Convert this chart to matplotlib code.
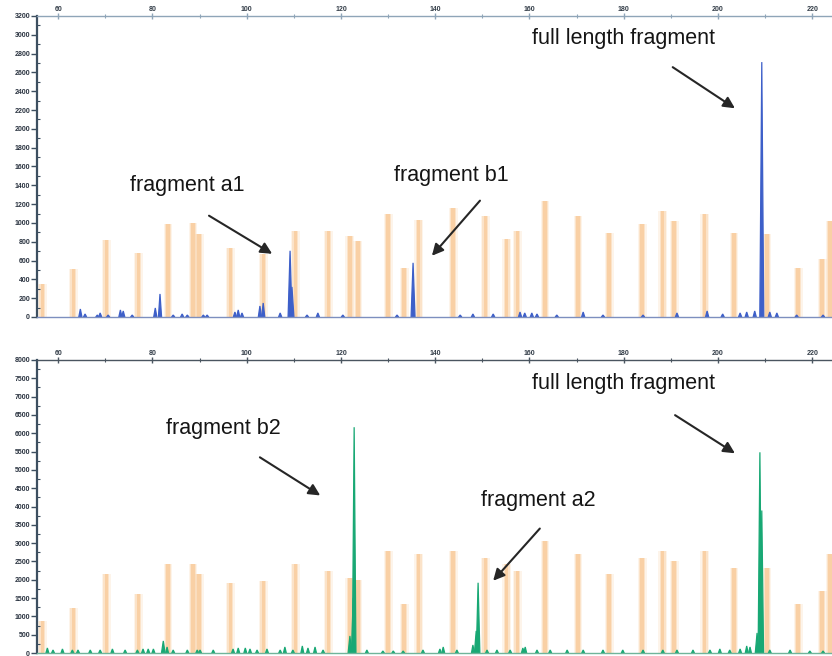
import matplotlib
matplotlib.use("Agg")
import matplotlib.pyplot as plt
from matplotlib.ticker import MultipleLocator

plt.rcParams['font.family'] = ['Liberation Sans', 'DejaVu Sans']

# Fragment sizes (bp) for the top scale
size_ticks = [60, 80, 100, 120, 140, 160, 180, 200, 220]

# Size-standard ladder (orange) : positions in bp and heights per panel
ladder_bp = [56.6, 63.2, 70.2, 77.0, 83.3, 88.6, 89.9, 96.5, 103.5, 110.3,
             117.3, 121.9, 123.6, 130.0, 133.4, 136.5, 143.8, 150.6, 155.2,
             157.4, 163.3, 170.3, 176.9, 183.9, 188.3, 190.7, 197.2, 203.4,
             210.4, 217.0, 222.1, 223.8]
ladder_top = [352, 512, 821, 683, 992, 1003, 885, 736, 672, 917,
              917, 864, 811, 1099, 523, 1030, 1163, 1077, 832,
              917, 1237, 1077, 896, 992, 1131, 1024, 1099, 896,
              885, 523, 619, 1024]
ladder_bottom = [877, 1233, 2165, 1617, 2439, 2439, 2165, 1918, 1973, 2439,
                 2247, 2055, 2000, 2795, 1343, 2713, 2795, 2603, 2439,
                 2247, 3069, 2713, 2165, 2603, 2795, 2521, 2795, 2329,
                 2329, 1343, 1699, 2713]

# Sample 1 trace (blue): peak positions (bp) and heights (RFU)
blue_bp = [64.7, 65.7, 68.3, 68.9, 70.6, 73.2, 73.8, 75.7, 80.6, 81.6,
           84.4, 86.3, 87.4, 90.8, 91.6, 97.5, 98.2, 99.0, 102.8, 103.5,
           107.1, 109.2, 109.6, 112.8, 115.1, 120.4, 131.9, 135.3, 145.3,
           148.0, 152.3, 158.0, 159.0, 160.5, 161.6, 165.8, 171.4, 175.6,
           184.1, 191.3, 197.7, 201.0, 204.7, 206.1, 207.8, 209.3, 211.0,
           212.5, 216.7, 222.3]
blue_h = [85, 32, 21, 43, 21, 75, 64, 21, 96, 245,
          21, 32, 21, 21, 21, 53, 75, 43, 117, 149,
          43, 704, 320, 21, 43, 21, 21, 576, 21,
          32, 32, 53, 43, 43, 32, 21, 53, 21,
          21, 43, 64, 32, 43, 53, 64, 2710, 53,
          43, 21, 21]

# Sample 2 trace (green): peak positions (bp) and heights (RFU)
green_bp = [57.7, 58.9, 60.9, 63.0, 64.2, 66.8, 68.9, 71.5, 74.2, 76.8,
            78.0, 79.1, 80.2, 82.3, 83.1, 84.4, 87.4, 89.5, 90.1, 92.9,
            97.1, 98.2, 99.7, 100.7, 102.2, 104.3, 107.1, 108.1, 109.8,
            111.8, 113.0, 114.5, 116.2, 121.9, 122.6, 122.8, 125.5, 128.9,
            131.1, 133.2, 137.4, 141.0, 141.7, 144.6, 148.0, 148.7, 149.1,
            151.0, 153.1, 155.9, 158.6, 159.1, 161.6, 164.4, 168.0, 171.4,
            175.6, 179.8, 184.1, 188.3, 191.3, 194.7, 198.3, 200.4, 202.5,
            204.7, 206.1, 206.8, 208.3, 208.9, 209.3, 211.0, 215.3, 219.5,
            222.3]
green_h = [137, 82, 110, 82, 82, 82, 82, 110, 82, 82,
           110, 110, 110, 329, 164, 82, 82, 82, 82, 82,
           110, 137, 137, 110, 82, 110, 82, 164, 82,
           192, 137, 164, 82, 466, 1507, 6165, 82, 55,
           55, 55, 82, 110, 164, 82, 219, 603, 1918,
           82, 82, 82, 137, 164, 82, 82, 82, 82,
           82, 82, 82, 82, 82, 82, 82, 110, 82,
           110, 192, 164, 548, 5480, 3891, 82, 82, 55,
           55]

top_yticks = list(range(0, 3201, 200))
bottom_yticks = list(range(0, 8001, 500))

W, H = 832, 656
fig = plt.figure(figsize=(W / 100, H / 100), dpi=100)
ax1 = fig.add_axes([37 / W, 1 - 317 / H, (W - 37) / W, 301 / H])
ax2 = fig.add_axes([37 / W, 1 - 653 / H, (W - 37) / W, 293 / H])

ORANGE = '#F9C48E'


def draw_ladder(ax, heights):
    ax.bar(ladder_bp, heights, width=1.9, color=ORANGE, alpha=0.18,
           linewidth=0, zorder=1)
    ax.bar(ladder_bp, heights, width=1.2, color=ORANGE, alpha=0.35,
           linewidth=0, zorder=1)
    ax.bar(ladder_bp, heights, width=0.7, color=ORANGE, alpha=0.6,
           linewidth=0, zorder=1)


def draw_trace(ax, xs, hs, color, halfwidth):
    for x, h in zip(xs, hs):
        w = halfwidth if h > 300 else halfwidth * 0.8
        ax.fill([x - w, x, x + w], [0, h, 0], color=color, lw=0.9,
                edgecolor=color, zorder=2)


def style_axis(ax, yticks, top_color, base_color):
    ax.set_xlim(55.5, 224.2)
    ax.set_ylim(0, yticks[-1])
    ax.xaxis.tick_top()
    ax.set_xticks(size_ticks)
    ax.xaxis.set_minor_locator(MultipleLocator(10))
    ax.tick_params(axis='x', which='major', direction='inout', length=5,
                   width=1.0, color=top_color, labelsize=5, pad=0,
                   labelcolor='#333d48')
    ax.tick_params(axis='x', which='minor', direction='inout', length=3,
                   width=0.8, color=top_color)
    ax.set_yticks(yticks)
    ax.yaxis.set_minor_locator(MultipleLocator(yticks[1] / 2))
    ax.tick_params(axis='y', which='major', direction='out', length=4,
                   width=1.0, color='#3d4f60', labelsize=5, pad=1,
                   labelcolor='#2a3340')
    ax.tick_params(axis='y', which='minor', direction='in', length=2,
                   width=0.8, color='#3d4f60')
    for lbl in ax.get_yticklabels() + ax.get_xticklabels():
        lbl.set_fontweight('bold')
    ax.spines['right'].set_visible(False)
    ax.spines['left'].set_color('#3d4f60')
    ax.spines['left'].set_linewidth(1.6)
    ax.spines['top'].set_color(top_color)
    ax.spines['top'].set_linewidth(1.0)
    ax.spines['bottom'].set_color(base_color)
    ax.spines['bottom'].set_linewidth(1.0)
    ax.set_facecolor('white')


draw_ladder(ax1, ladder_top)
draw_trace(ax1, blue_bp, blue_h, '#3d5fc9', 0.42)
style_axis(ax1, top_yticks, '#8fa5b8', '#7d8fbf')

draw_ladder(ax2, ladder_bottom)
draw_trace(ax2, green_bp, green_h, '#18a874', 0.38)
style_axis(ax2, bottom_yticks, '#4a5560', '#6fb59a')

TEXT = dict(fontsize=15.5, color='#151515', ha='center', va='center', zorder=4)
ARROW = dict(arrowstyle='-|>', color='#262626', lw=1.5, mutation_scale=17,
             shrinkA=0, shrinkB=0)

# top panel labels
ax1.text(87.4, 1397, 'fragment a1', **TEXT)
ax1.annotate('', xy=(105.4, 672), xytext=(92.0, 1077), arrowprops=ARROW)
ax1.text(143.4, 1504, 'fragment b1', **TEXT)
ax1.annotate('', xy=(139.3, 651), xytext=(149.5, 1237), arrowprops=ARROW)
ax1.text(180.0, 2965, 'full length fragment', **TEXT)
ax1.annotate('', xy=(203.6, 2219), xytext=(190.4, 2656), arrowprops=ARROW)

# bottom panel labels
ax2.text(95.0, 6138, 'fragment b2', **TEXT)
ax2.annotate('', xy=(115.6, 4302), xytext=(102.8, 5343), arrowprops=ARROW)
ax2.text(161.8, 4165, 'fragment a2', **TEXT)
ax2.annotate('', xy=(152.3, 1973), xytext=(162.2, 3398), arrowprops=ARROW)
ax2.text(180.0, 7371, 'full length fragment', **TEXT)
ax2.annotate('', xy=(203.6, 5453), xytext=(190.9, 6494), arrowprops=ARROW)

fig.savefig('out.png', dpi=100, facecolor='white')
